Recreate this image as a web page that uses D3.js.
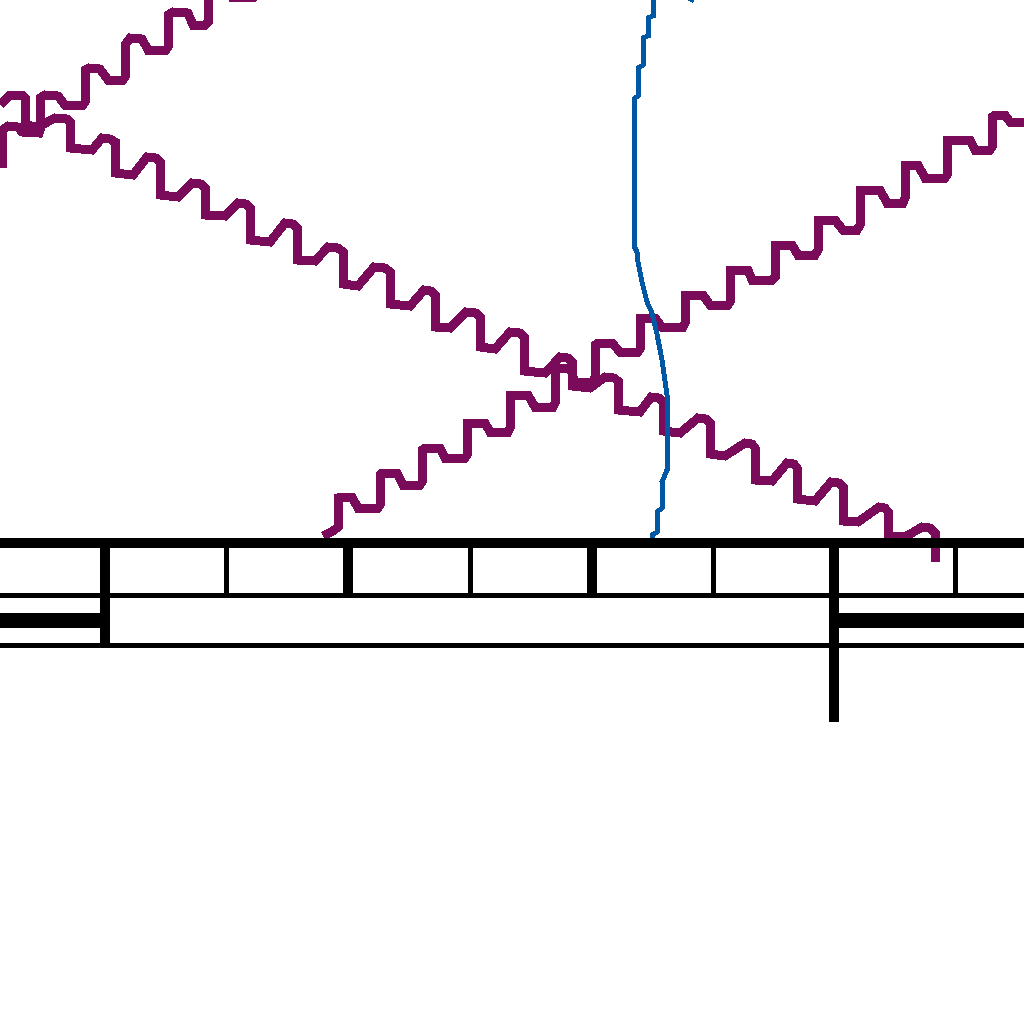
<!DOCTYPE html>
<html>
<head>
<meta charset="utf-8">
<script src="https://cdn.jsdelivr.net/npm/d3@7/dist/d3.min.js"></script>
<style>
  html, body { margin: 0; padding: 0; background: #ffffff; }
  svg { display: block; }
</style>
</head>
<body>
<svg id="chart" width="1024" height="1024"></svg>
<script>
// ---- data (chart units) ----
const waveDown = [[0,10.5],[1,9.5],[2.2,9.5],[2.5,9.8],[2.5,12.5],[3.8,12.7],[5.5,11.8],[6.7,11.9],[7,12.2],[7,14.8],[9.2,15],[10.2,13.8],[11,13.9],[11.5,14.2],[11.5,17.3],[13.3,17.5],[14.7,15.7],[15.6,15.8],[16,16.2],[16,19.5],[17.8,19.7],[19.2,18.3],[20.1,18.4],[20.5,18.8],[20.5,21.5],[22.5,21.6],[23.8,20.3],[24.6,20.4],[25,20.8],[25,24],[27,24.2],[28.5,22.3],[29.3,22.4],[29.7,22.8],[29.7,26],[31.5,26.1],[32.8,24.7],[33.8,24.8],[34.3,25.2],[34.3,28.4],[35.8,28.6],[37.4,26.7],[38.5,26.8],[39,27.2],[39,30.4],[41,30.6],[42.4,29],[43.1,29.1],[43.5,29.5],[43.5,32.7],[45,32.8],[46.6,31.2],[47.6,31.3],[48,31.7],[48,34.7],[49.5,34.9],[51,33.2],[52,33.3],[52.4,33.7],[52.4,37.1],[54.5,37.3],[56,35.7],[56.8,35.8],[57.2,36.2],[57.2,38.6],[59,38.8],[60.5,37.7],[61.4,37.8],[61.8,38.1],[61.8,41],[64,41.2],[65.1,39.7],[65.9,39.8],[66.3,40.2],[66.3,43.1],[68,43.3],[69.8,41.8],[70.6,41.9],[71,42.3],[71,45.4],[72.5,45.6],[74.5,44.3],[75.2,44.4],[75.5,44.8],[75.5,48],[77.2,48.1],[78.7,46.3],[79.4,46.4],[79.7,46.8],[79.7,49.9],[81.5,50.1],[83.1,48.2],[83.9,48.3],[84.3,48.7],[84.3,52.1],[85.8,52.2],[87.9,50.7],[88.5,50.8],[88.8,51.2],[88.8,53.6],[90.5,53.7],[92.2,52.7],[93,52.8],[93.5,53.3],[93.5,56.2]];

const waveUpLeft = [[0.2,16.8],[0.2,13],[0.8,12.6],[1.8,12.7],[2.2,13.2],[3.9,13.3],[4,13.0],[4,9.8],[4.5,9.5],[5.8,9.6],[6.5,10.5],[8.3,10.5],[8.5,10.2],[8.5,7],[8.9,6.8],[10,6.9],[10.8,8],[12.3,8],[12.5,7.7],[12.5,4.5],[13,3.8],[14.2,3.9],[14.8,5],[16.6,5],[16.8,4.7],[16.8,1.5],[17.3,1.2],[18.8,1.3],[19.3,2.5],[20.5,2.5],[20.8,2.2],[20.8,-1.5],[21.3,-1.8],[22.5,-1.7],[23.2,-0.3],[25.3,-0.3],[25.5,-1],[25.5,-4]];

const waveUpRight = [[32.3,53.6],[33.3,53.1],[33.8,52.7],[33.8,49.8],[34.2,49.7],[35.2,49.7],[35.8,50.8],[37.8,50.8],[38,50.5],[38,47.5],[38.2,47.3],[39.7,47.3],[40.3,48.5],[42,48.5],[42.2,48.2],[42.2,45],[42.5,44.8],[44,44.8],[44.5,45.8],[46.5,45.8],[46.7,45.5],[46.7,42.3],[47,42.3],[48.5,42.3],[49,43.2],[50.8,43.2],[51,42.8],[51,39.5],[51.5,39.5],[52.8,39.5],[53.5,40.7],[55.3,40.7],[55.5,40.3],[55.5,37],[55.8,36.8],[57,36.8],[57.5,38.2],[59.2,38.2],[59.5,37.8],[59.5,34.5],[59.8,34.3],[61.2,34.3],[62,35.2],[63.8,35.2],[64,34.9],[64,31.8],[64.3,31.8],[65.5,31.8],[66.2,32.7],[68.3,32.7],[68.5,32.3],[68.5,29.5],[68.8,29.5],[70.3,29.5],[71,30.5],[72.8,30.5],[73,30.2],[73,27],[73.3,27],[74.8,27],[75.2,28],[77.2,28],[77.5,27.7],[77.5,24.5],[77.8,24.5],[79.2,24.5],[79.8,25.5],[81.5,25.5],[81.8,25],[81.8,22],[82,22],[83.5,22],[84.3,23],[85.7,23],[86,22.5],[86,19],[86.3,19],[88,19],[88.7,20.3],[90.3,20.3],[90.5,19.8],[90.5,16.5],[90.8,16.5],[91.8,16.5],[92.5,17.8],[94.5,17.8],[94.7,17.5],[94.7,14],[95,14],[97,14],[97.5,15],[99,15],[99.2,14.7],[99.2,11.7],[99.5,11.5],[100.5,11.5],[101,12.2],[103,12.2]];

const blueCurve = [[65.3,-0.5],[65.3,1.6],[64.8,1.8],[64.8,3.6],[64.3,3.8],[64.3,6.5],[63.8,6.8],[63.8,9.6],[63.4,9.9],[63.4,24.6],[63.7,25.2],[63.8,26.2],[64.2,28.2],[64.7,30.2],[65.2,31.3],[65.7,33.4],[66.2,36],[66.7,39.5],[66.7,47],[66.2,48.2],[66.2,50.8],[65.7,51.2],[65.7,53.2],[65.2,53.5],[65.2,54]];
const blueTail = [[68.6,-0.3],[69.4,0.05]];

const majorTicks = [10.5, 34.8, 59.2, 83.4];
const minorTicks = [22.65, 47.05, 71.35, 95.55];
const axisRows = [54.8, 59.8, 64.8];      // row boundaries (bottom of band lines)
const spanBars = [[-1, 10.5], [83.4, 103.5]];
const rowDividers = [10.5, 83.4];
const longTick = 83.4;
const longTickEnd = 72.2;

// ---- scales ----
const W = 1024;
const x = d3.scaleLinear().domain([0, 102.4]).range([0, W]);
const y = d3.scaleLinear().domain([0, 102.4]).range([0, W]);

const svg = d3.select("#chart");
const purple = "#7a0a5a";
const blue = "#0057a3";

const line = d3.line().x(d => x(d[0])).y(d => y(d[1]));

const waves = svg.append("g").attr("class", "waves");
[waveDown, waveUpLeft, waveUpRight].forEach(w => {
  waves.append("path")
    .attr("d", line(w))
    .attr("fill", "none")
    .attr("stroke", purple)
    .attr("stroke-width", 9)
    .attr("stroke-linejoin", "miter")
    .attr("shape-rendering", "crispEdges");
});
[blueCurve, blueTail].forEach(w => {
  waves.append("path")
    .attr("d", line(w))
    .attr("fill", "none")
    .attr("stroke", blue)
    .attr("stroke-width", 5)
    .attr("shape-rendering", "crispEdges");
});

// ---- axis structure ----
const ax = svg.append("g").attr("class", "axis").attr("shape-rendering", "crispEdges");
ax.append("rect").attr("x", 0).attr("width", W)
  .attr("y", y(axisRows[0]) - 10).attr("height", 10).attr("fill", "#000");
[axisRows[1], axisRows[2]].forEach(r => {
  ax.append("rect").attr("x", 0).attr("width", W)
    .attr("y", y(r) - 5).attr("height", 5).attr("fill", "#000");
});
ax.selectAll(".major").data(majorTicks).enter().append("rect")
  .attr("class", "major")
  .attr("x", d => x(d) - 5).attr("width", 10)
  .attr("y", y(axisRows[0])).attr("height", y(axisRows[1]) - 5 - y(axisRows[0]))
  .attr("fill", "#000");
ax.selectAll(".minor").data(minorTicks).enter().append("rect")
  .attr("class", "minor")
  .attr("x", d => x(d) - 2.5).attr("width", 5)
  .attr("y", y(axisRows[0])).attr("height", y(axisRows[1]) - 5 - y(axisRows[0]))
  .attr("fill", "#000");
ax.selectAll(".div2").data(rowDividers).enter().append("rect")
  .attr("class", "div2")
  .attr("x", d => x(d) - 5).attr("width", 10)
  .attr("y", y(axisRows[1])).attr("height", y(axisRows[2]) - 5 - y(axisRows[1]))
  .attr("fill", "#000");
ax.append("rect")
  .attr("x", x(longTick) - 5).attr("width", 10)
  .attr("y", y(axisRows[2])).attr("height", y(longTickEnd) - y(axisRows[2]))
  .attr("fill", "#000");
ax.selectAll(".span").data(spanBars).enter().append("rect")
  .attr("class", "span")
  .attr("x", d => x(d[0])).attr("width", d => x(d[1]) - x(d[0]))
  .attr("y", (y(axisRows[1]) + y(axisRows[2]) - 5) / 2 - 7.5).attr("height", 15)
  .attr("fill", "#000");
</script>
</body>
</html>
